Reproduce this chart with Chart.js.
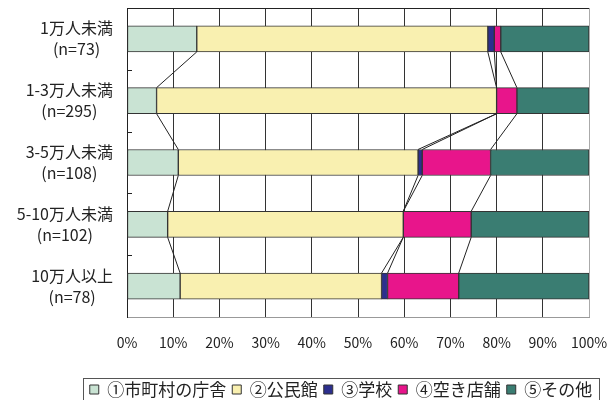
<!DOCTYPE html>
<html lang="ja">
<head>
<meta charset="utf-8">
<script src="https://cdn.jsdelivr.net/npm/chart.js@4.4.1/dist/chart.umd.min.js"></script>
<style>
  html, body { margin: 0; padding: 0; background: #fff; }
  #wrap { width: 608px; height: 400px; }
</style>
</head>
<body>
<div id="wrap"><canvas id="chart"></canvas></div>
<script>
// data (percent of each group)
const categories = [
  ["1万人未満", "(n=73)"],
  ["1-3万人未満", "(n=295)"],
  ["3-5万人未満", "(n=108)"],
  ["5-10万人未満", "(n=102)"],
  ["10万人以上", "(n=78)"]
];
const seriesNames = ["①市町村の庁舎", "②公民館", "③学校", "④空き店舗", "⑤その他"];
const townHall = [15.1, 6.4, 11.1, 8.8, 11.5];
const communityHall = [63.0, 73.6, 51.9, 51.0, 43.6];
const school = [1.4, 0, 0.9, 0, 1.3];
const emptyShop = [1.4, 4.4, 14.8, 14.7, 15.4];
const other = [19.1, 15.6, 21.3, 25.5, 28.2];
const xTicks = [0, 10, 20, 30, 40, 50, 60, 70, 80, 90, 100];

const colors = ["#c9e3d3", "#f9f0b0", "#2c2f8e", "#e8158b", "#3a7d72"];
const seriesValues = [townHall, communityHall, school, emptyShop, other];
const font = "'Noto Sans CJK JP', 'Noto Sans', sans-serif";

// lines joining the same boundary between neighbouring bars
const connectorPlugin = {
  id: "connectors",
  afterDatasetsDraw(chart) {
    const ctx = chart.ctx;
    const x = chart.scales.x;
    const bars = chart.getDatasetMeta(0).data;
    ctx.save();
    ctx.strokeStyle = "#222";
    ctx.lineWidth = 1;
    for (let i = 0; i < categories.length - 1; i++) {
      let cumA = 0, cumB = 0;
      for (let k = 0; k < seriesValues.length - 1; k++) {
        cumA += seriesValues[k][i];
        cumB += seriesValues[k][i + 1];
        const a = bars[i], b = bars[i + 1];
        ctx.beginPath();
        ctx.moveTo(x.getPixelForValue(cumA), a.y + a.height / 2);
        ctx.lineTo(x.getPixelForValue(cumB), b.y - b.height / 2);
        ctx.stroke();
      }
    }
    ctx.restore();
  }
};

// frame top line, small category ticks, two-line labels, legend box
const framePlugin = {
  id: "frame",
  afterDraw(chart) {
    const ctx = chart.ctx;
    const area = chart.chartArea;
    const y = chart.scales.y;
    ctx.save();
    ctx.strokeStyle = "#222";
    ctx.lineWidth = 1;
    ctx.beginPath();
    ctx.moveTo(area.left, area.top + 0.5);
    ctx.lineTo(area.right, area.top + 0.5);
    for (let i = 0; i < categories.length - 1; i++) {
      const yy = Math.round((y.getPixelForValue(i) + y.getPixelForValue(i + 1)) / 2) + 0.5;
      ctx.moveTo(area.left, yy);
      ctx.lineTo(area.left + 5, yy);
    }
    ctx.stroke();

    ctx.fillStyle = "#222";
    ctx.font = "16px " + font;
    ctx.textAlign = "center";
    ctx.textBaseline = "middle";
    categories.forEach((lines, i) => {
      const w = Math.max(...lines.map(t => ctx.measureText(t).width));
      const cx = area.left - 14 - w / 2;
      const cy = y.getPixelForValue(i);
      ctx.fillText(lines[0], cx, cy - 10.5);
      ctx.fillText(lines[1], cx, cy + 10.5);
    });

    const boxes = chart.legend.legendHitBoxes;
    if (boxes && boxes.length) {
      const left = Math.min(...boxes.map(b => b.left)) - 7;
      const right = Math.max(...boxes.map(b => b.left + b.width)) + 7;
      const top = boxes[0].top - 3;
      const bottom = boxes[0].top + boxes[0].height + 8;
      ctx.strokeStyle = "#555";
      ctx.strokeRect(Math.round(left) + 0.5, Math.round(top) + 0.5, Math.round(right - left), Math.round(bottom - top));
    }
    ctx.restore();
  }
};

new Chart(document.getElementById("chart"), {
  type: "bar",
  data: {
    labels: categories,
    datasets: seriesNames.map((name, k) => ({
      label: name,
      data: seriesValues[k],
      backgroundColor: colors[k],
      borderColor: "#333",
      borderWidth: 1,
      borderSkipped: false,
      barThickness: 26
    }))
  },
  options: {
    indexAxis: "y",
    responsive: true,
    maintainAspectRatio: false,
    animation: false,
    layout: { padding: { left: 74, right: 0, top: 8, bottom: -8 } },
    scales: {
      x: {
        stacked: true,
        min: 0,
        max: 100,
        afterBuildTicks: s => { s.ticks = xTicks.map(v => ({ value: v })); },
        afterFit: s => { s.height = 58; s.paddingRight = 19; },
        ticks: {
          callback: v => v + "%",
          color: "#222",
          font: { family: font, size: 14 },
          padding: 17,
          maxRotation: 0
        },
        grid: {
          color: c => (c.tick && c.tick.value === 100 ? "#aaa" : "#333"),
          lineWidth: 1,
          drawTicks: false
        },
        border: { color: "#999" }
      },
      y: {
        stacked: true,
        afterFit: s => { s.width = 53; },
        ticks: { display: false },
        grid: { display: false },
        border: { color: "#222" }
      }
    },
    plugins: {
      legend: {
        position: "bottom",
        labels: {
          color: "#222",
          font: { family: font, size: 17 },
          boxWidth: 9,
          boxHeight: 9,
          padding: 6
        }
      },
      tooltip: { enabled: false }
    }
  },
  plugins: [connectorPlugin, framePlugin]
});
</script>
</body>
</html>
